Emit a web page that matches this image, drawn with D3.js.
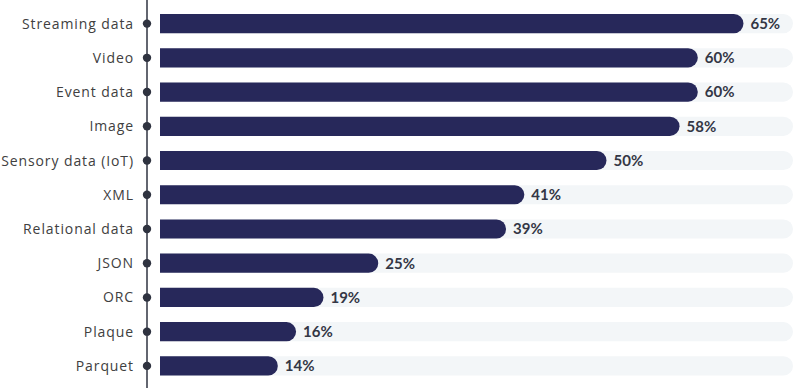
<!DOCTYPE html>
<html><head><meta charset="utf-8">
<script src="https://cdn.jsdelivr.net/npm/d3@7"></script>
<style>body{margin:0;background:#fff}svg{display:block}</style>
</head><body>
<svg id="c" width="800" height="392"></svg>
<script>
const categories = ["Streaming data","Video","Event data","Image","Sensory data (IoT)","XML","Relational data","JSON","ORC","Plaque","Parquet"];
const values = [65,60,60,58,50,41,39,25,19,16,14];
const valueLabels = ["65%","60%","60%","58%","50%","41%","39%","25%","19%","16%","14%"];

const W = 800, H = 392;
const svg = d3.select("#c");
const axisX = 147, barStart = 160, trackEnd = 793;
const x = d3.scaleLinear().domain([0, 100]).range([150, 1063]);
const y = d3.scaleBand().domain(categories).range([6.5, 383]).paddingInner(0.44).paddingOuter(0.22);
const bh = y.bandwidth();

function capsule(x0, x1, yy, h) {
  const rr = Math.min(h / 2, Math.max(0, x1 - x0));
  return `M${x0},${yy}H${x1 - rr}A${rr},${h/2} 0 0 1 ${x1 - rr},${yy + h}H${x0}Z`;
}

// tracks
svg.append("g").selectAll("path").data(categories).join("path")
  .attr("d", d => capsule(barStart, trackEnd, y(d), bh))
  .attr("fill", "#f3f6f8");

// bars
svg.append("g").selectAll("path").data(values).join("path")
  .attr("d", (v, i) => capsule(barStart, x(v), y(categories[i]), bh))
  .attr("fill", "#27285a");

// value labels
svg.append("g").selectAll("text").data(values).join("text")
  .attr("x", v => x(v) + 7)
  .attr("y", (v, i) => y(categories[i]) + bh / 2)
  .attr("dy", "0.36em")
  .attr("font-family", "Lato, sans-serif")
  .attr("font-weight", 700)
  .attr("font-size", 15)
  .attr("fill", "#343745")
  .text((v, i) => valueLabels[i]);

// axis line
svg.append("line").attr("x1", axisX).attr("x2", axisX).attr("y1", 0).attr("y2", 388)
  .attr("stroke", "#2f3340").attr("stroke-width", 1.5);

// dots
svg.append("g").selectAll("circle").data(categories).join("circle")
  .attr("cx", axisX).attr("cy", d => y(d) + bh / 2).attr("r", 4.2)
  .attr("fill", "#2f3340");

// category labels
svg.append("g").selectAll("text").data(categories).join("text")
  .attr("x", 134)
  .attr("y", d => y(d) + bh / 2)
  .attr("dy", "0.36em")
  .attr("text-anchor", "end")
  .attr("font-family", "'Open Sans', sans-serif")
  .attr("font-size", 14)
  .attr("letter-spacing", 0.9)
  .attr("fill", "#404040")
  .text(d => d);
</script>
</body></html>
